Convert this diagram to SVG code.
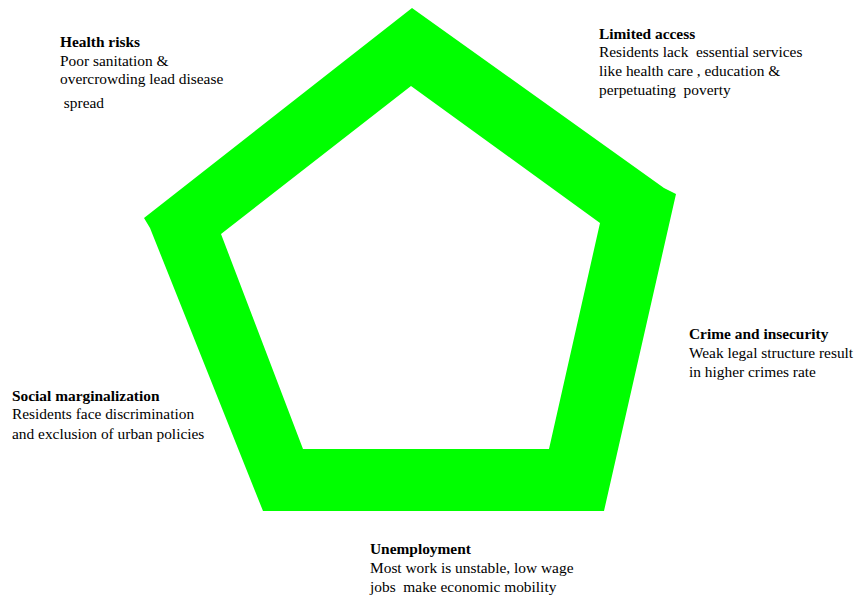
<svg xmlns="http://www.w3.org/2000/svg" width="863" height="596" viewBox="0 0 863 596">
<style>
text{font-family:"Liberation Serif","Times New Roman",serif;font-size:15.4px;fill:#000;white-space:pre}
.t{font-weight:bold}
</style>
<rect width="863" height="596" fill="#fff"/>
<g id="pentagon">
<path fill="#00ff00" fill-rule="evenodd" d="M412,8 L664,188 L676,194 L604,511 L263,511 L150,228 L144,218 Z M411,86 L221,234 L303,449 L549,449 L600,223 Z"/>
</g>
<g id="connectors"></g>
<g id="health">
<text x="60" y="47" class="t">Health risks</text>
<text x="60" y="66">Poor sanitation &amp;</text>
<text x="60" y="84">overcrowding lead disease</text>
<text x="60" y="108" xml:space="preserve"> spread</text>
</g>
<g id="limited">
<text x="599" y="39" class="t">Limited access</text>
<text x="599" y="57" xml:space="preserve">Residents lack  essential services</text>
<text x="599" y="76">like health care , education &amp;</text>
<text x="599" y="95" xml:space="preserve">perpetuating  poverty</text>
</g>
<g id="crime">
<text x="689" y="339" class="t">Crime and insecurity</text>
<text x="689" y="358">Weak legal structure result</text>
<text x="689" y="377">in higher crimes rate</text>
</g>
<g id="social">
<text x="12" y="401" class="t">Social marginalization</text>
<text x="12" y="419">Residents face discrimination</text>
<text x="12" y="439">and exclusion of urban policies</text>
</g>
<g id="unemployment">
<text x="370" y="554" class="t">Unemployment</text>
<text x="370" y="573">Most work is unstable, low wage</text>
<text x="370" y="592" xml:space="preserve">jobs  make economic mobility</text>
</g>
</svg>
